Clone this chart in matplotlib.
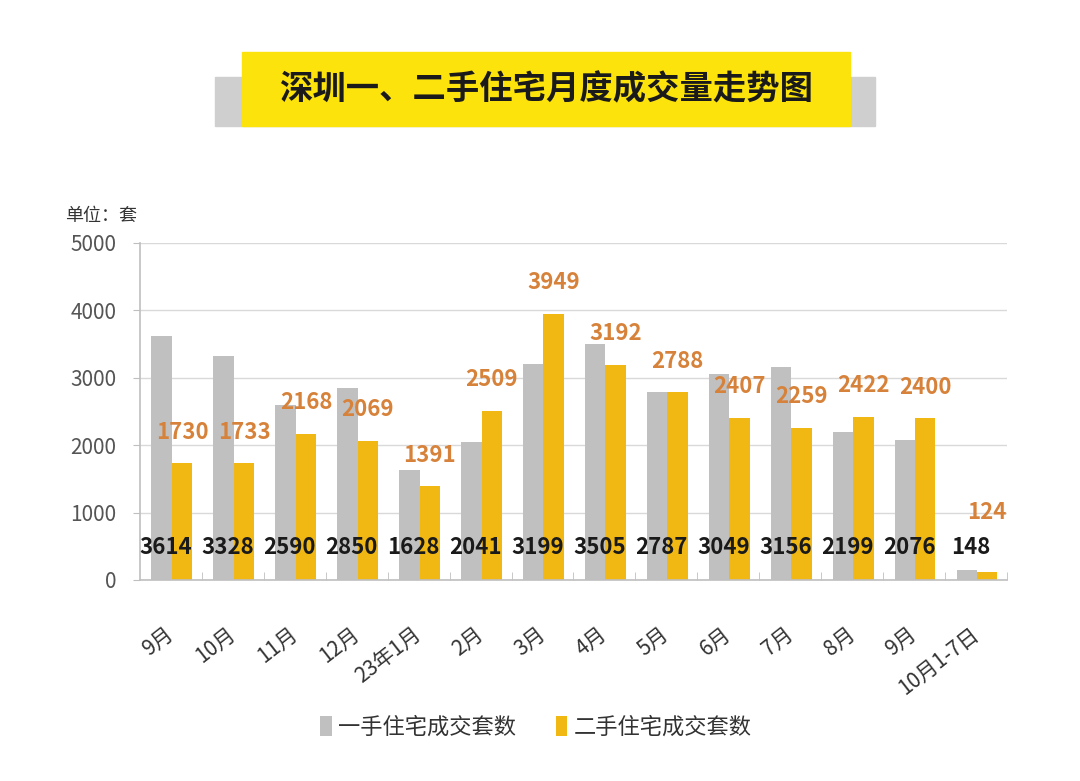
import numpy as np
import matplotlib.pyplot as plt
from matplotlib.patches import Rectangle

plt.rcParams['font.family'] = ['Noto Sans CJK SC', 'DejaVu Sans']

months = ['9月', '10月', '11月', '12月', '23年1月', '2月', '3月', '4月', '5月',
          '6月', '7月', '8月', '9月', '10月1-7日']
new_homes = [3614, 3328, 2590, 2850, 1628, 2041, 3199, 3505, 2787, 3049, 3156, 2199, 2076, 148]
second_hand = [1730, 1733, 2168, 2069, 1391, 2509, 3949, 3192, 2788, 2407, 2259, 2422, 2400, 124]

gray = '#C0C0C0'
yellow = '#F1B814'
orange = '#D7823A'

fig = plt.figure(figsize=(10.8, 7.81), dpi=100)
ax = fig.add_axes([0.1296, 0.2574, 0.8028, 0.4315])

x = np.arange(len(months))
w = 0.33
ax.bar(x - 0.15, new_homes, w, color=gray, zorder=2, label='一手住宅成交套数')
ax.bar(x + 0.18, second_hand, w, color=yellow, zorder=2, label='二手住宅成交套数')

# value labels: black ones sit low, orange ones above the yellow bars
for i in range(len(months)):
    ax.text(x[i] - 0.08, 475, str(new_homes[i]), ha='center', va='center',
            fontsize=16, fontweight='bold', color='#1a1a1a', zorder=3)
    ytxt = max(second_hand[i] + 460, 1000)
    ax.text(x[i] + 0.18, ytxt, str(second_hand[i]), ha='center', va='center',
            fontsize=16, fontweight='bold', color=orange, zorder=3)

ax.set_xlim(-0.5, len(months) - 0.5)
ax.set_ylim(0, 5000)
ax.set_yticks(np.arange(0, 5001, 1000))
ax.tick_params(axis='y', labelsize=15, labelcolor='#555555', length=5,
               color='#BFBFBF', pad=12)
ax.yaxis.grid(True, color='#D9D9D9', linewidth=1, zorder=0)
ax.set_axisbelow(True)

ax.set_xticks(x)
ax.set_xticklabels(months, rotation=38, ha='right', va='center',
                   rotation_mode='anchor', fontsize=15, color='#333333')
ax.tick_params(axis='x', length=0, pad=37)
ax.set_xticks(np.arange(0.5, len(months)), minor=True)
ax.tick_params(axis='x', which='minor', direction='in', length=6, color='#BFBFBF')

for s in ['top', 'right']:
    ax.spines[s].set_visible(False)
for s in ['left', 'bottom']:
    ax.spines[s].set_color('#BFBFBF')
    ax.spines[s].set_linewidth(1.2)

fig.text(65 / 1080, 1 - 216 / 781, '单位：套', fontsize=13, color='#333333',
         va='center', ha='left')

# title banner
fig.patches.append(Rectangle((215 / 1080, 1 - 126 / 781), 660 / 1080, 49 / 781,
                             transform=fig.transFigure, color='#CFCFCF', zorder=0))
fig.patches.append(Rectangle((242 / 1080, 1 - 126 / 781), 608 / 1080, 74 / 781,
                             transform=fig.transFigure, color='#FDE30C', zorder=1))
fig.text(546 / 1080, 1 - 90 / 781, '深圳一、二手住宅月度成交量走势图', fontsize=24,
         fontweight='bold', color='#1a1a1a', ha='center', va='center', zorder=2)

leg_y = (1 - 727 / 781 - 0.2574) / 0.4315
ax.legend(loc='center', bbox_to_anchor=(0.457, leg_y),
          ncol=2, frameon=False, fontsize=16, handlelength=0.5, handleheight=1.0,
          handletextpad=0.3, columnspacing=1.8, labelcolor='#333333')

fig.savefig('out.png', dpi=100)
